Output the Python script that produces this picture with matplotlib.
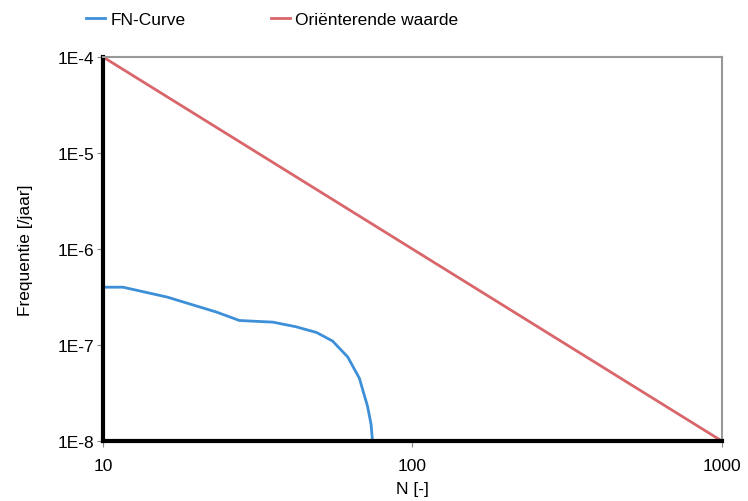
import matplotlib
matplotlib.use("Agg")
import matplotlib.pyplot as plt
import matplotlib.ticker as mticker

plt.rcParams['font.family'] = ['Liberation Sans', 'DejaVu Sans']

# FN-curve
fn_n = [10, 11.6, 16.1, 23.3, 27.6, 35.4, 42, 49, 55.2, 61.8, 67.4, 71.6, 73.5, 74.3]
fn_freq = [4.0e-7, 4.0e-7, 3.16e-7, 2.2e-7, 1.8e-7, 1.73e-7, 1.55e-7, 1.35e-7,
           1.1e-7, 7.5e-8, 4.5e-8, 2.3e-8, 1.5e-8, 1.0e-8]

# orienterende waarde
ref_n = [10, 1000]
ref_freq = [1e-4, 1e-8]

y_ticks = [1e-8, 1e-7, 1e-6, 1e-5, 1e-4]
y_labels = ["1E-8", "1E-7", "1E-6", "1E-5", "1E-4"]
x_ticks = [10, 100, 1000]
x_labels = ["10", "100", "1000"]

fs = 12.5

fig = plt.figure(figsize=(7.48, 5.02), dpi=100)
ax = fig.add_axes([0.1377, 0.1195, 0.8273, 0.765])

ax.plot(fn_n, fn_freq, color='#3d8fd8', lw=2, label="FN-Curve")
ax.plot(ref_n, ref_freq, color='#d9666a', lw=2, label="Oriënterende waarde")

ax.set_xscale('log')
ax.set_yscale('log')
ax.set_xlim(10, 1000)
ax.set_ylim(1e-8, 1e-4)
ax.set_xticks(x_ticks)
ax.set_xticklabels(x_labels)
ax.set_yticks(y_ticks)
ax.set_yticklabels(y_labels)
ax.xaxis.set_minor_locator(mticker.NullLocator())
ax.yaxis.set_minor_locator(mticker.NullLocator())
ax.tick_params(labelsize=fs, length=4, color='#888888')
ax.tick_params(axis='x', pad=8)
ax.tick_params(axis='y', pad=2)

ax.spines['left'].set_linewidth(3)
ax.spines['bottom'].set_linewidth(3)
ax.spines['top'].set_color('#999999')
ax.spines['right'].set_color('#999999')
ax.spines['top'].set_linewidth(1.5)
ax.spines['right'].set_linewidth(1.5)

ax.set_xlabel("N [-]", fontsize=fs, labelpad=6)
ax.set_ylabel("Frequentie [/jaar]", fontsize=fs, labelpad=18)

fig.legend(loc='center left', bbox_to_anchor=(0.094, 0.96), ncol=2, frameon=False,
           fontsize=fs, handlelength=1.1, handletextpad=0.3, columnspacing=4.93)

plt.savefig("out.png", dpi=100)
